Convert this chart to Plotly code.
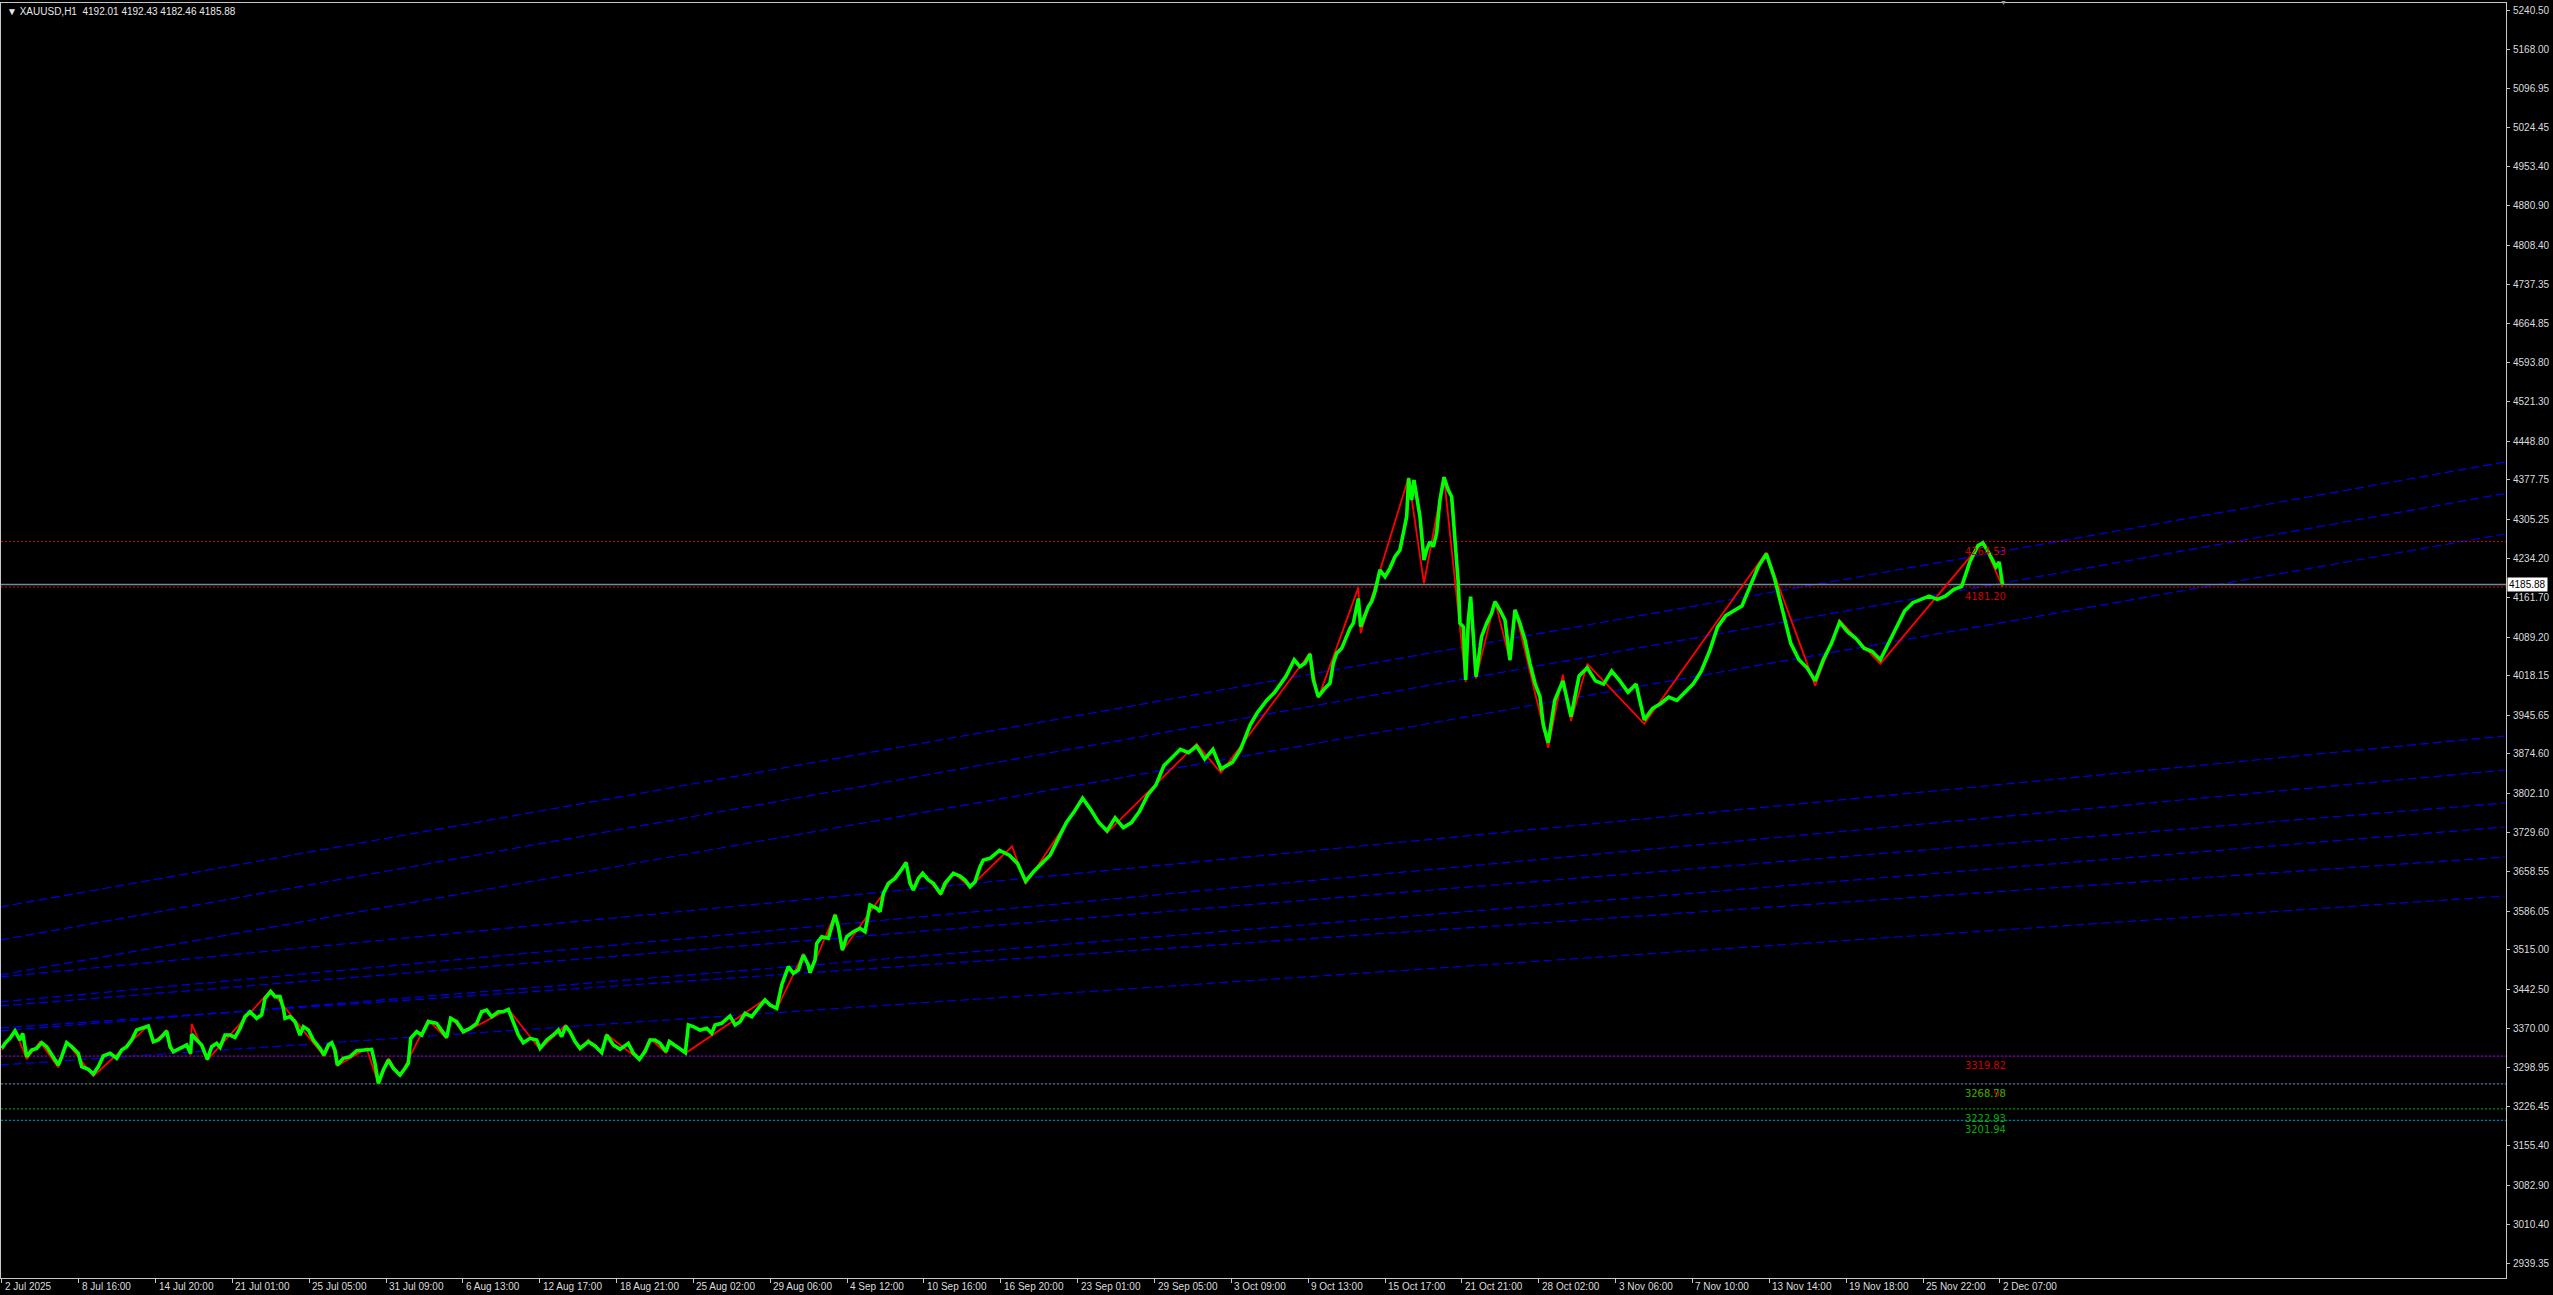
import plotly.graph_objects as go

# ---------------- data ----------------
# bar index (H1 bars, no gaps) and close price of the line chart
bar_idx = [0, 4.0, 10.2, 16.5, 22.7, 26.1, 31.1, 37.3, 43.6, 49.8, 56.0, 62.3, 70.6, 74.8, 81.0, 87.3, 95.6, 99.8,
           108.1, 114.3, 120.6, 126.8, 135.2, 143.5, 149.7, 156.0, 162.2, 168.5, 174.7, 183.0, 189.3, 195.5, 201.8,
           206.0, 210.1, 214.3, 222.6, 230.9, 235.9, 237.2, 243.4, 249.7, 256.8, 262.2, 268.4, 272.6, 278.8, 285.1,
           291.3, 297.6, 303.8, 310.1, 318.4, 324.6, 328.8, 335.9, 341.3, 347.5, 351.7, 353.8, 360.0, 366.3, 372.5,
           376.7, 382.9, 389.2, 397.5, 402.5, 407.9, 412.1, 416.2, 419.1, 426.6, 435.0, 443.3, 449.5, 455.8, 462.0,
           466.2, 470.4, 476.6, 482.9, 489.1, 497.4, 503.7, 507.8, 510.8, 518.3, 524.5, 532.8, 543.2, 549.5, 555.7,
           560.7, 568.2, 576.5, 584.9, 593.2, 599.4, 605.7, 611.9, 620.3,
           626.6, 632.8, 639.1, 645.3, 651.5, 659.9, 668.2, 672.4, 680.7, 689.0, 695.3, 699.4, 704.4, 709.8, 716.1,
           722.3, 732.7, 741.1, 749.4, 755.6, 764.0, 772.3, 782.7, 789.0, 796.5, 803.5, 809.8, 816.0, 822.3, 829.8,
           833.9, 841.0, 849.3, 853.9, 857.7, 863.9, 872.2, 880.6, 886.8, 891.0, 899.3, 909.7, 916.0, 922.2, 928.5,
           936.8, 945.1, 953.4, 959.7, 968.0, 974.3, 982.6, 988.8, 995.1, 1001.3, 1007.6, 1009.6, 1015.9, 1018.0,
           1024.2, 1032.5, 1040.9, 1045.0, 1050.0, 1055.5, 1063.8, 1072.1, 1078.4, 1084.6, 1092.9, 1097.1, 1101.3,
           1107.5, 1115.8, 1122.1, 1129.6, 1134.6, 1138.7, 1145.0, 1150.4, 1157.5, 1163.7, 1172.9, 1178.3, 1188.7,
           1197.0, 1203.3, 1209.5, 1215.8, 1222.0, 1226.2, 1234.5,
           1246.4, 1258.6, 1268.8, 1279.0, 1289.1, 1299.3, 1309.5, 1319.7, 1329.8, 1340.0, 1350.2, 1360.3, 1370.5,
           1380.7, 1390.8, 1401.0, 1411.2, 1421.3, 1431.5, 1441.7, 1451.8, 1462.0, 1472.2, 1482.4, 1492.5, 1502.7,
           1512.9, 1523.0, 1537.3, 1547.5, 1559.6, 1567.8, 1580.0, 1590.1, 1604.4, 1614.5,
           1621.7, 1627.9, 1634.2, 1638.4, 1644.6, 1652.9, 1659.2, 1663.3, 1667.5, 1673.8, 1680.0, 1684.2, 1688.3,
           1694.6, 1697.5, 1700.8, 1707.1, 1711.2, 1715.4, 1721.6, 1727.9, 1734.1, 1740.4, 1746.6, 1750.8, 1755.0,
           1757.4, 1761.2, 1764.1, 1767.4, 1771.6, 1776.6, 1779.9, 1784.1, 1788.3, 1792.4, 1796.6, 1801.6, 1807.0,
           1811.2, 1815.3, 1819.5, 1821.6, 1825.7, 1828.7, 1832.0, 1834.9, 1838.2, 1841.6, 1848.6, 1854.9, 1861.1,
           1865.3, 1871.5, 1877.8, 1884.0, 1890.3, 1896.5, 1902.8, 1909.0, 1915.3, 1921.5,
           1925.7, 1931.8, 1940.0, 1950.1, 1960.3, 1970.4, 1980.6, 1990.8, 2001.0, 2011.1, 2021.3, 2031.5, 2041.6,
           2051.8, 2062.0, 2072.1, 2082.3, 2092.5, 2102.6, 2112.8, 2123.0, 2133.2, 2143.3, 2153.5, 2163.7, 2173.8,
           2184.0, 2194.2, 2204.3, 2214.5, 2224.7, 2234.8, 2245.0, 2255.2, 2265.3, 2275.5, 2285.7, 2295.8, 2306.0,
           2316.2, 2326.3, 2336.5, 2346.7, 2356.8, 2367.0, 2377.2, 2387.3, 2397.5, 2407.7, 2417.8, 2428.0, 2438.2,
           2448.4, 2458.5, 2468.7, 2474.8, 2482.9, 2491.1, 2495.2, 2499.3]
close = [3334.1, 3343.3, 3352.5, 3365.9, 3349.4, 3361.7, 3318.8, 3331.1, 3334.1, 3344.5, 3337.2, 3321.9, 3303.5,
         3318.8, 3344.5, 3337.2, 3324.9, 3300.5, 3295.6, 3287.0, 3300.5, 3320.0, 3324.9, 3315.8, 3331.1, 3337.2,
         3349.4, 3367.8, 3370.8, 3375.1, 3346.4, 3349.4, 3358.6, 3365.9, 3337.2, 3328.0, 3334.1, 3340.2, 3324.9,
         3360.0, 3349.4, 3340.2, 3313.9, 3337.2, 3343.3, 3336.0, 3358.6, 3358.6, 3354.3, 3370.8, 3392.3, 3401.4,
         3389.2, 3395.3, 3425.9, 3438.2, 3429.0, 3429.0, 3407.6, 3389.2, 3392.3, 3383.1, 3358.6, 3373.9, 3367.8,
         3349.4, 3334.1, 3321.9, 3340.2, 3344.5, 3331.1, 3303.5, 3315.8, 3318.8, 3329.8, 3331.1, 3331.1, 3332.3,
         3306.6, 3269.9, 3294.3, 3312.7, 3297.4, 3285.2, 3297.4, 3306.6, 3352.5, 3364.7, 3358.6, 3383.1, 3380.0,
         3367.8, 3354.3, 3389.2, 3383.1, 3364.7, 3370.8, 3380.0, 3401.4, 3404.5, 3392.3, 3401.4,
         3401.4, 3405.7, 3380.0, 3358.6, 3344.5, 3352.5, 3349.4, 3334.1, 3349.4, 3358.6, 3367.8, 3355.5, 3375.1,
         3364.7, 3346.4, 3334.1, 3346.4, 3338.4, 3326.2, 3358.6, 3340.2, 3332.3, 3343.3, 3324.9, 3313.9, 3328.0,
         3349.4, 3349.4, 3343.3, 3328.0, 3346.4, 3340.2, 3331.1, 3326.2, 3377.0, 3373.9, 3367.8, 3370.8, 3361.7,
         3377.0, 3380.0, 3393.5, 3377.0, 3383.1, 3398.4, 3392.3, 3407.6, 3422.9, 3413.7, 3407.6, 3450.4, 3484.1,
         3471.8, 3477.9, 3505.5, 3487.1, 3473.0, 3496.3, 3526.9, 3539.1, 3536.1, 3578.9, 3557.5, 3514.7, 3539.1,
         3548.3, 3554.4, 3548.3, 3597.3, 3591.2, 3585.0, 3618.7, 3637.1, 3646.2, 3658.5, 3675.0, 3637.1, 3624.8,
         3646.2, 3655.4, 3643.2, 3637.1, 3617.5, 3637.1, 3655.4, 3650.5, 3643.2, 3630.9, 3640.1, 3667.7, 3679.9,
         3683.0,
         3697.7, 3688.7, 3673.7, 3640.9, 3658.8, 3673.7, 3688.7, 3718.6, 3748.5, 3769.4, 3793.3, 3772.4, 3748.5,
         3733.5, 3757.5, 3739.5, 3748.5, 3769.4, 3799.3, 3817.3, 3853.2, 3868.1, 3883.1, 3877.1, 3889.1, 3865.2,
         3883.1, 3847.2, 3859.2, 3883.1, 3928.0, 3948.9, 3972.8, 3987.8, 4017.7, 4047.6,
         4034.9, 4041.0, 4058.1, 4010.4, 3979.8, 3995.1, 4004.3, 4041.0, 4059.3, 4068.5, 4089.9, 4105.3, 4114.4,
         4160.0, 4108.3, 4120.5, 4145.0, 4154.2, 4172.6, 4212.4, 4200.1, 4215.4, 4236.8, 4249.1, 4279.7, 4310.3,
         4380.6, 4340.9, 4377.6, 4347.0, 4310.3, 4230.7, 4249.1, 4264.4, 4255.2, 4279.7, 4340.9, 4382.5, 4359.2,
         4347.0, 4261.3, 4187.9, 4114.4, 4108.3, 4010.4, 4120.5, 4163.4, 4083.8, 4016.5, 4089.9, 4114.4, 4132.8,
         4154.2, 4138.9, 4120.5, 4047.1, 4138.9, 4114.4, 4083.8, 4041.0, 4004.3, 3979.8,
         3928.0, 3895.1, 3973.0, 4008.8, 3943.0, 4017.7, 4032.7, 4008.8, 4002.8, 4026.7, 4008.8, 3987.8, 4002.8,
         3937.0, 3957.9, 3966.9, 3978.9, 3972.8, 3987.8, 4002.8, 4026.7, 4062.6, 4107.5, 4128.4, 4137.4, 4146.4,
         4182.2, 4218.1, 4242.0, 4197.2, 4137.4, 4077.6, 4047.6, 4032.7, 4008.8, 4047.6, 4077.6, 4116.5, 4098.5,
         4086.6, 4068.6, 4062.6, 4047.6, 4077.6, 4107.5, 4137.4, 4152.3, 4158.3, 4164.3, 4158.3, 4164.3, 4176.3,
         4182.2, 4227.1, 4257.0, 4262.0, 4242.0, 4218.1, 4227.1, 4185.88]

# ZigZag pivots
zz_bar = [0, 16.5, 31.1, 47.7, 70.6, 81.0, 114.3, 183.0, 189.3, 206.0, 214.3, 230.9, 235.9, 237.2, 256.8, 335.9,
          402.5, 412.1, 419.1, 455.8, 470.4, 482.9, 497.4, 532.8, 555.7, 560.7, 576.5, 632.8, 672.4, 704.4, 722.3,
          732.7, 749.4, 755.6, 796.5, 809.8, 829.8, 833.9, 853.9, 953.4, 968.0, 1001.3, 1009.6, 1040.9, 1050.0,
          1129.6, 1138.7, 1150.4, 1172.9, 1188.7, 1209.5, 1262.0, 1279.0, 1350.2, 1380.7, 1492.5, 1523.0, 1634.2,
          1644.6, 1694.6, 1697.5, 1757.4, 1776.6, 1801.6, 1828.7, 1834.9, 1841.6, 1865.3, 1884.0, 1890.3, 1931.8,
          1950.1, 1960.3, 1980.6, 2051.8, 2204.3, 2265.3, 2295.8, 2346.7, 2474.8, 2499.3]
zz_price = [3331, 3368, 3314, 3346, 3299, 3346, 3283, 3376, 3345, 3367, 3326, 3342, 3322, 3379, 3313, 3441,
            3320, 3346, 3302, 3334, 3269, 3316, 3283, 3386, 3352, 3392, 3362, 3406, 3332, 3377, 3331,
            3350, 3325, 3360, 3313, 3352, 3326, 3349, 3325, 3424, 3406, 3508, 3472, 3581, 3513,
            3677, 3624, 3657, 3616, 3657, 3630, 3705, 3636, 3793, 3730, 3893, 3840, 4060,
            3977, 4180, 4096, 4382, 4188, 4384, 4007, 4163, 4013, 4156, 4046, 4140, 3886,
            4020, 3935, 4040, 3930, 4245, 4000, 4120, 4040, 4264.53, 4181.20]

# Trend lines (price at left edge bar, price at right edge bar)
trend_x = [-2.25, 3127.0]
trend_start = [3593.6, 3533.0, 3468.8, 3465.1, 3419.2, 3411.8, 3365.9, 3371.5, 3303.5]
trend_end = [4410.6, 4352.8, 4278.4, 3907.6, 3845.1, 3784.6, 3740.5, 3685.4, 3613.8]

# Horizontal levels
level_price = [4264.53, 4181.20, 3319.82, 3268.98, 3268.78, 3222.93, 3201.94]
level_color = ["#d00000", "#d00000", "#d00000", "#d00000", "#00b000", "#00b000", "#00b000"]
level_blue = [False, False, True, True, False, False, True]
level_label_bar = 2450

last_price = 4185.88
header_text = "XAUUSD,H1\u00a0\u00a04192.01 4192.43 4182.46 4185.88"

y_ticks = [5240.50, 5168.00, 5096.95, 5024.45, 4953.40, 4880.90, 4808.40, 4737.35, 4664.85, 4593.80, 4521.30,
           4448.80, 4377.75, 4305.25, 4234.20, 4161.70, 4089.20, 4018.15, 3945.65, 3874.60, 3802.10, 3729.60,
           3658.55, 3586.05, 3515.00, 3442.50, 3370.00, 3298.95, 3226.45, 3155.40, 3082.90, 3010.40, 2939.35]
x_labels = ["2 Jul 2025", "8 Jul 16:00", "14 Jul 20:00", "21 Jul 01:00", "25 Jul 05:00", "31 Jul 09:00",
            "6 Aug 13:00", "12 Aug 17:00", "18 Aug 21:00", "25 Aug 02:00", "29 Aug 06:00", "4 Sep 12:00",
            "10 Sep 16:00", "16 Sep 20:00", "23 Sep 01:00", "29 Sep 05:00", "3 Oct 09:00", "9 Oct 13:00",
            "15 Oct 17:00", "21 Oct 21:00", "28 Oct 02:00", "3 Nov 06:00", "7 Nov 10:00", "13 Nov 14:00",
            "19 Nov 18:00", "25 Nov 22:00", "2 Dec 07:00"]
bars_per_label = 96
x_tick_bars = [i * bars_per_label for i in range(len(x_labels))]

X_RANGE = [-1.0, 3128.3]
Y_RANGE = [2912.45, 5253.35]

FONT = "Liberation Sans, Arial, sans-serif"
NARROW = "Liberation Sans Narrow, DejaVu Sans Condensed, Arial Narrow, sans-serif"
AXIS_TXT = "#dcdcdc"

fig = go.Figure()

# trend lines
for p0, p1 in zip(trend_start, trend_end):
    fig.add_trace(go.Scatter(x=trend_x, y=[p0, p1], mode="lines",
                             line=dict(color="#0000e6", width=1.2, dash="9px,4px"),
                             hoverinfo="skip", showlegend=False))

# horizontal levels
for p, c, b in zip(level_price, level_color, level_blue):
    if b:
        fig.add_trace(go.Scatter(x=X_RANGE, y=[p, p], mode="lines",
                                 line=dict(color="#0000c8", width=1), hoverinfo="skip", showlegend=False))
    fig.add_trace(go.Scatter(x=X_RANGE, y=[p, p], mode="lines",
                             line=dict(color=c, width=1, dash="2px,2px"), hoverinfo="skip", showlegend=False))

# bid line
fig.add_trace(go.Scatter(x=X_RANGE, y=[last_price, last_price], mode="lines",
                         line=dict(color="#778899", width=1.5), hoverinfo="skip", showlegend=False))

# zigzag
fig.add_trace(go.Scatter(x=zz_bar, y=zz_price, mode="lines",
                         line=dict(color="#ff0000", width=1.8), hoverinfo="skip", showlegend=False))

# price line
fig.add_trace(go.Scatter(x=bar_idx, y=close, mode="lines",
                         line=dict(color="#00ff00", width=3.6), hoverinfo="skip", showlegend=False))

annotations = []
# level labels
for p, c in zip(level_price, level_color):
    annotations.append(dict(x=level_label_bar, y=p, xref="x", yref="y", text=f"{p:.2f}", showarrow=False,
                            xanchor="left", yanchor="top", yshift=-1,
                            font=dict(family=NARROW, size=11, color=c)))
# x labels
for xb, t in zip(x_tick_bars, x_labels):
    annotations.append(dict(x=xb, y=0, xref="x", yref="paper", text=t, showarrow=False,
                            xanchor="left", yanchor="top", xshift=1, yshift=-1,
                            font=dict(family=FONT, size=10, color=AXIS_TXT)))
# header
annotations.append(dict(x=0, y=1, xref="paper", yref="paper", text="\u25bc " + header_text, showarrow=False,
                        xanchor="left", yanchor="top", xshift=4, yshift=-1,
                        font=dict(family=FONT, size=10, color="#e8e8e8")))
# last price box
annotations.append(dict(x=1, y=last_price, xref="paper", yref="y", text=f"{last_price:.2f}", showarrow=False,
                        xanchor="left", yanchor="middle", xshift=1, bgcolor="#ffffff", borderpad=1,
                        font=dict(family=FONT, size=10, color="#000000")))
# chart shift marker
annotations.append(dict(x=2500, y=1, xref="x", yref="paper", text="\u25bc", showarrow=False,
                        xanchor="center", yanchor="middle", yshift=1,
                        font=dict(family=FONT, size=7, color="#9a9a9a")))

fig.update_layout(
    width=2553, height=1295,
    margin=dict(l=1, r=47, t=3, b=17, pad=0, autoexpand=False),
    paper_bgcolor="#000000", plot_bgcolor="#000000",
    showlegend=False,
    annotations=annotations,
    xaxis=dict(range=X_RANGE, showgrid=False, zeroline=False, showline=True, mirror=True,
               linecolor="#c8c8c8", linewidth=1, ticks="outside", ticklen=4, tickcolor="#c8c8c8",
               tickvals=x_tick_bars, showticklabels=False, fixedrange=True, automargin=False),
    yaxis=dict(range=Y_RANGE, side="right", showgrid=False, zeroline=False, showline=True, mirror=True,
               linecolor="#c8c8c8", linewidth=1, ticks="outside", ticklen=3, tickcolor="#c8c8c8",
               tickvals=y_ticks, ticktext=[f"{v:.2f}" for v in y_ticks], ticklabelstandoff=1,
               tickfont=dict(family=FONT, size=10, color=AXIS_TXT), fixedrange=True, automargin=False),
)

fig.write_html("out.html", config={"displayModeBar": False},
               post_script="document.body.style.margin='0';document.body.style.background='#000';")
